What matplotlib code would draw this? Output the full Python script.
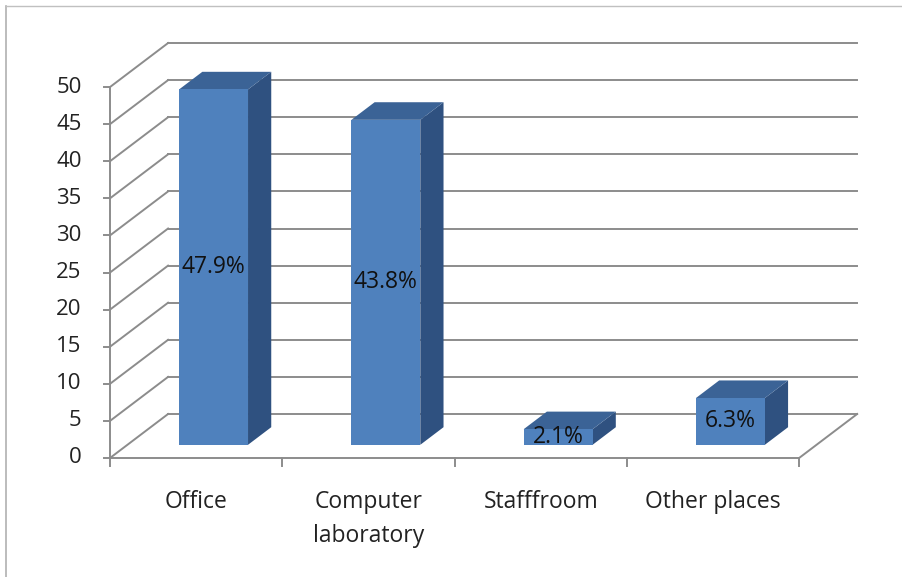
import matplotlib.pyplot as plt
from matplotlib.patches import Polygon
from matplotlib.lines import Line2D

plt.rcParams['font.family'] = ['Open Sans', 'DejaVu Sans']

categories = ['Office', 'Computer\nlaboratory', 'Stafffroom', 'Other places']
values = [47.9, 43.8, 2.1, 6.3]
labels = ['47.9%', '43.8%', '2.1%', '6.3%']
yticks = [0, 5, 10, 15, 20, 25, 30, 35, 40, 45, 50]

# oblique depth vector (data units for the full floor depth)
ddx, ddy = 0.337, 5.93
f0, f1 = 0.3, 0.7   # bar front / back inside the depth
bw = 0.4            # bar width inside one category slot
n = len(categories)
ymax = 50

c_front = '#4f81bd'
c_top = '#3b6396'
c_side = '#2f5180'
c_grid = '#8c8c8c'

fig = plt.figure(figsize=(9.03, 5.77), dpi=100)
ax = fig.add_axes([0, 0, 1, 1])
ax.set_xlim(-0.6386, 4.603)
ax.set_ylim(-16.04, 61.73)
ax.axis('off')

# back wall and left wall grid
for v in yticks:
    ax.plot([ddx, n + ddx], [v + ddy, v + ddy], color=c_grid, lw=1.4, zorder=1)
    ax.plot([0, ddx], [v, v + ddy], color=c_grid, lw=1.4, zorder=1)
    ax.plot([-0.035, 0], [v, v], color=c_grid, lw=1.4, zorder=1)
    ax.text(-0.165, v, str(v), ha='right', va='center', fontsize=16, color='#222222')

# floor edges and axis lines
ax.plot([0, 0], [0, ymax], color=c_grid, lw=1.4, zorder=1)
ax.plot([0, n], [0, 0], color=c_grid, lw=1.4, zorder=1)
ax.plot([n, n + ddx], [0, ddy], color=c_grid, lw=1.4, zorder=1)
for i in range(n + 1):
    ax.plot([i, i], [0, -1.1], color=c_grid, lw=1.4, zorder=1)

# 3D-looking bars
for i, (v, lab) in enumerate(zip(values, labels)):
    x0 = i + 0.5 - bw / 2
    x1 = i + 0.5 + bw / 2
    fx0, fx1 = x0 + f0 * ddx, x1 + f0 * ddx
    bx0, bx1 = x0 + f1 * ddx, x1 + f1 * ddx
    fy, by = f0 * ddy, f1 * ddy
    side = [(fx1, fy), (bx1, by), (bx1, v + by), (fx1, v + fy)]
    top = [(fx0, v + fy), (fx1, v + fy), (bx1, v + by), (bx0, v + by)]
    front = [(fx0, fy), (fx1, fy), (fx1, v + fy), (fx0, v + fy)]
    ax.add_patch(Polygon(side, closed=True, fc=c_side, ec='none', zorder=3))
    ax.add_patch(Polygon(top, closed=True, fc=c_top, ec='none', zorder=3))
    ax.add_patch(Polygon(front, closed=True, fc=c_front, ec='none', zorder=3))
    ax.text((fx0 + fx1) / 2, fy + v / 2, lab, ha='center', va='center',
            fontsize=16.5, color='#111111', zorder=5)

for i, cat in enumerate(categories):
    ax.text(i + 0.5, -4.3, cat, ha='center', va='top', fontsize=16.5,
            color='#222222', linespacing=1.55)

# frame on top and left
fig.add_artist(Line2D([6 / 903, 6 / 903], [0, 1 - 6 / 577], color='#b0b0b0', lw=1.2))
fig.add_artist(Line2D([6 / 903, 1], [1 - 6 / 577, 1 - 6 / 577], color='#c0c0c0', lw=1.0))

fig.savefig('out.png', dpi=100)
